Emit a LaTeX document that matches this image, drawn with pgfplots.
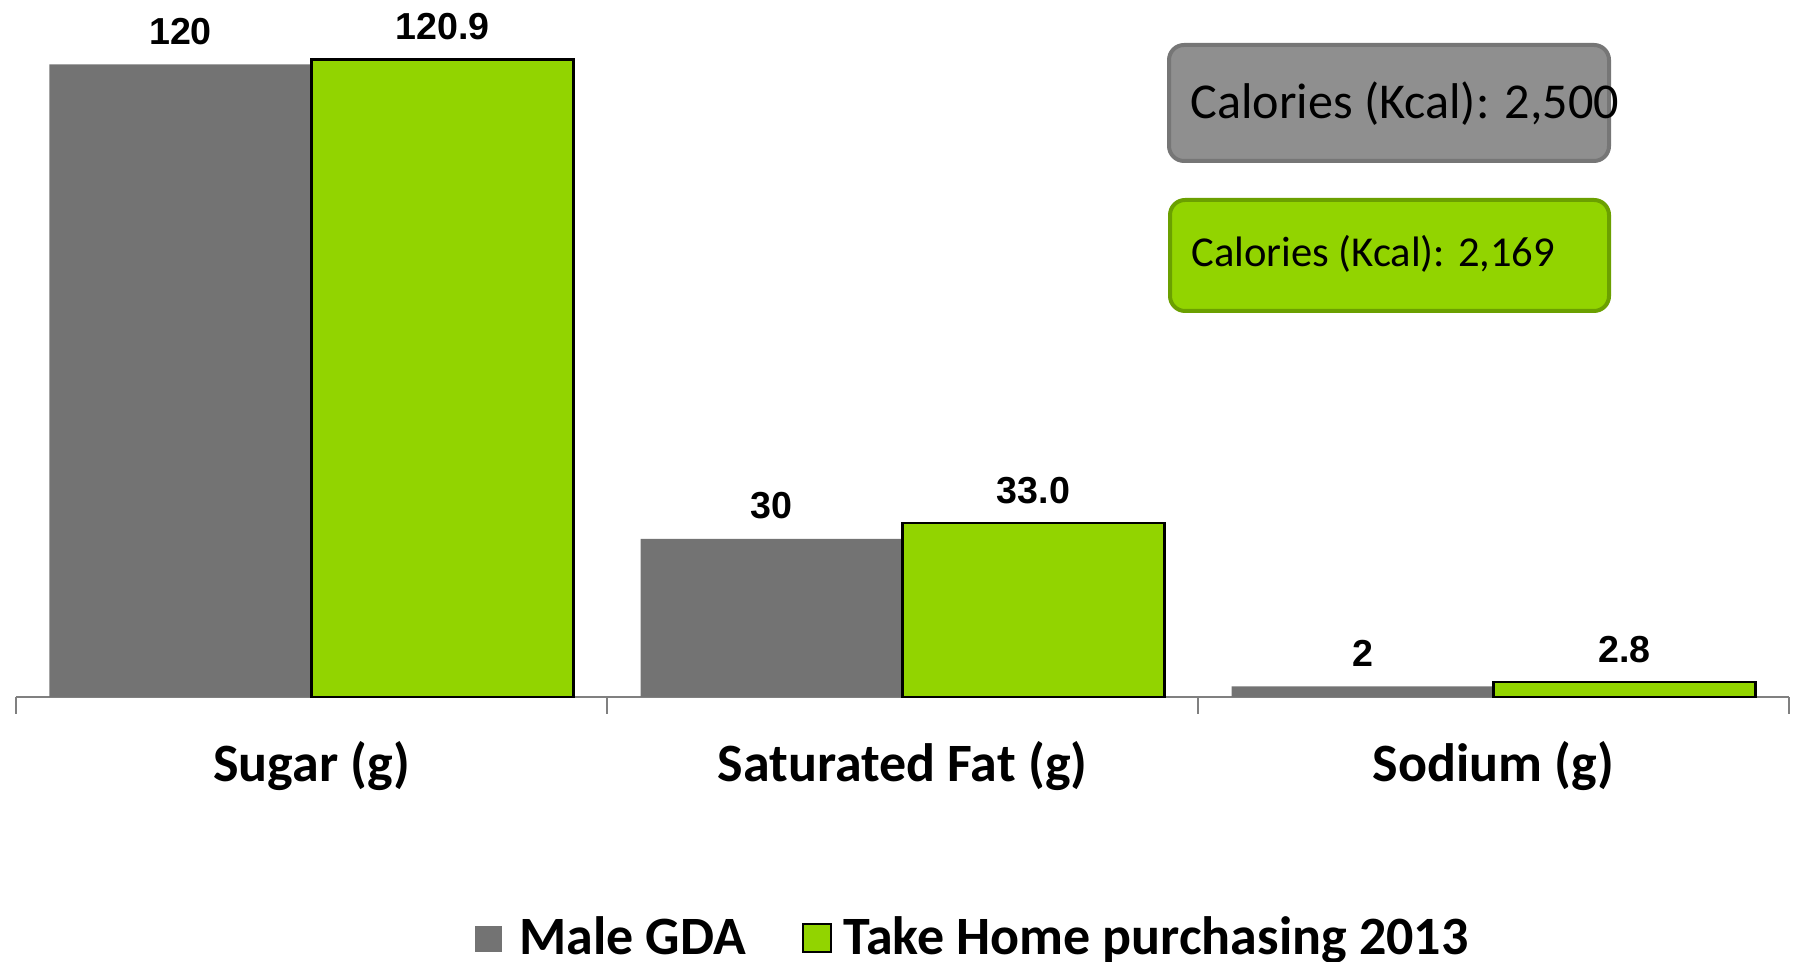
\documentclass[border=0pt]{standalone}
\usepackage{pgfplots}
\pgfplotsset{compat=1.18}
\usepackage{fontspec}
\setmainfont{Carlito}
\newfontfamily\arialfont{Liberation Sans}

\definecolor{gdagray}{RGB}{115,115,115}
\definecolor{thpgreen}{RGB}{146,212,0}
\definecolor{axisgray}{RGB}{128,128,128}
\definecolor{boxgray}{RGB}{143,143,143}
\definecolor{boxgrayline}{RGB}{118,118,118}
\definecolor{boxgreenline}{RGB}{107,160,0}

\begin{document}
\begin{tikzpicture}
\begin{axis}[
  at={(0,0)}, anchor=south west,
  scale only axis,
  width=886.5pt, height=348.5pt,
  ybar=0pt, bar width=131pt,
  xmin=-0.5, xmax=2.5,
  ymin=0, ymax=132.2,
  clip=false,
  hide y axis,
  axis x line*=bottom,
  x axis line style={draw=axisgray, line width=1pt, -},
  xtick={-0.5,0.5,1.5,2.5},
  xticklabels={},
  tick align=outside,
  major tick length=8.5pt,
  tick style={draw=axisgray, line width=1pt},
  extra x ticks={0,1,2},
  extra x tick labels={Sugar (g), Saturated Fat (g), Sodium (g)},
  extra x tick style={
    major tick length=0pt,
    tick label style={anchor=base, yshift=-42.5pt, inner sep=0pt,
      font=\fontsize{27}{31}\selectfont\bfseries},
  },
  point meta=explicit symbolic,
  nodes near coords,
  every node near coord/.append style={
    anchor=base, inner sep=0pt, yshift=10pt, text=black,
    font=\arialfont\fontsize{18.8}{21}\selectfont\bfseries},
]
% Male GDA
\addplot[fill=gdagray, draw=none] coordinates {
  (0,120) [120]
  (1,30)  [30]
  (2,2)   [2]
};
% Take Home purchasing 2013
\addplot[fill=thpgreen, draw=black, line width=1.25pt] coordinates {
  (0,120.9) [120.9]
  (1,33.0)  [33.0]
  (2,2.8)   [2.8]
};
\end{axis}

% calorie boxes
\draw[fill=boxgray, draw=boxgrayline, line width=2pt, rounded corners=7.5pt]
  (576.5pt,268pt) rectangle (796.5pt,326pt);
\node[anchor=base west, inner sep=0pt, font=\fontsize{25.1}{28}\selectfont]
  at (587pt,289pt) {Calories (Kcal): 2,500};
\draw[fill=thpgreen, draw=boxgreenline, line width=2pt, rounded corners=7.5pt]
  (577pt,193pt) rectangle (796.5pt,248.5pt);
\node[anchor=base west, inner sep=0pt, font=\fontsize{21.3}{24}\selectfont]
  at (587.5pt,215pt) {Calories (Kcal): 2,169};

% legend
\fill[gdagray] (229.5pt,-127.5pt) rectangle (243pt,-114.5pt);
\node[anchor=base west, inner sep=0pt, font=\fontsize{27}{31}\selectfont\bfseries]
  at (251.5pt,-129pt) {Male GDA};
\draw[fill=thpgreen, draw=black, line width=1pt]
  (393.5pt,-127.5pt) rectangle (407.5pt,-113.5pt);
\node[anchor=base west, inner sep=0pt, font=\fontsize{27}{31}\selectfont\bfseries]
  at (413.5pt,-129pt) {Take Home purchasing 2013};

\pgfresetboundingbox
\useasboundingbox (-8pt,-132.5pt) rectangle (891pt,348.5pt);
\end{tikzpicture}
\end{document}
